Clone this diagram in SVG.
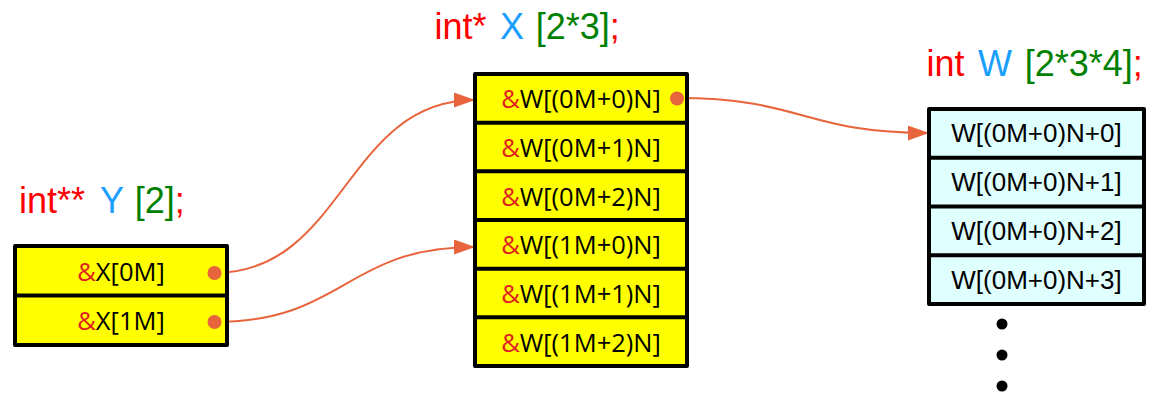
<svg xmlns="http://www.w3.org/2000/svg" width="1149" height="393" viewBox="0 0 1149 393">
  <style>
    .title { font-family: "Liberation Sans", Arial, sans-serif; font-size: 36px; }
    .kw { fill: #ff0000; }
    .nm { fill: #1a9fff; }
    .dim { fill: #008000; }
    .ptr { fill: #ffff00; stroke: #000; stroke-width: 4; stroke-linejoin: round; }
    .val { fill: #e0ffff; stroke: #000; stroke-width: 4; stroke-linejoin: round; }
    .div { stroke: #000; stroke-width: 4; }
    .ptxt { font-family: "Open Sans", "Liberation Sans", sans-serif; font-size: 25.5px; fill: #000; text-anchor: middle; }
    .amp { fill: #e02020; }
    .vtxt { font-family: "Liberation Sans", Arial, sans-serif; font-size: 26px; fill: #000; text-anchor: middle; }
    .src { fill: #e8643c; }
    .link { fill: none; stroke: #e8643c; stroke-width: 2; marker-end: url(#arrow); }
  </style>
  <defs>
    <marker id="arrow" markerUnits="userSpaceOnUse" markerWidth="22" markerHeight="16" refX="21" refY="7.5" orient="auto">
      <path d="M0,0 L21,7.5 L0,15 z" fill="#e8643c"/>
    </marker>
  </defs>

  <rect width="1149" height="393" fill="#fff"/>

  <!-- declarations -->
  <g id="title-Y" class="title">
    <text x="19" y="213" class="kw">int**</text>
    <text x="100" y="213" class="nm">Y</text>
    <text x="134.7" y="213"><tspan class="dim">[2]</tspan><tspan class="kw">;</tspan></text>
  </g>
  <g id="title-X" class="title">
    <text x="434.5" y="39" class="kw">int*</text>
    <text x="500" y="39" class="nm">X</text>
    <text x="535.7" y="39"><tspan class="dim">[2*3]</tspan><tspan class="kw">;</tspan></text>
  </g>
  <g id="title-W" class="title">
    <text x="926.5" y="76" class="kw">int</text>
    <text x="978" y="76" class="nm">W</text>
    <text x="1024.7" y="76"><tspan class="dim">[2*3*4]</tspan><tspan class="kw">;</tspan></text>
  </g>

  <!-- connectors -->
  <g id="connectors">
    <path class="link" d="M214,273 C345,273 345,100 475,100"/>
    <path class="link" d="M214,322 C345,322 345,247 475,247"/>
    <path class="link" d="M677,98 C803,98 803,133 929,133"/>
  </g>

  <!-- Y: array of pointers to rows of X -->
  <g id="Y">
    <rect class="ptr" x="15" y="246" width="212" height="99"/>
    <line class="div" x1="15" y1="295.5" x2="227" y2="295.5"/>
    <text class="ptxt" x="121" y="280.5"><tspan class="amp">&amp;</tspan>X[0M]</text>
    <text class="ptxt" x="121" y="330"><tspan class="amp">&amp;</tspan>X[1M]</text>
    <circle class="src" cx="214.5" cy="273" r="7"/>
    <circle class="src" cx="214.5" cy="322" r="7"/>
  </g>

  <!-- X: array of pointers into W -->
  <g id="X">
    <rect class="ptr" x="475" y="74" width="212" height="292"/>
    <line class="div" x1="475" y1="122.7" x2="687" y2="122.7"/>
    <line class="div" x1="475" y1="171.3" x2="687" y2="171.3"/>
    <line class="div" x1="475" y1="220" x2="687" y2="220"/>
    <line class="div" x1="475" y1="268.7" x2="687" y2="268.7"/>
    <line class="div" x1="475" y1="317.3" x2="687" y2="317.3"/>
    <text class="ptxt" x="581" y="108.3"><tspan class="amp">&amp;</tspan>W[(0M+0)N]</text>
    <text class="ptxt" x="581" y="157"><tspan class="amp">&amp;</tspan>W[(0M+1)N]</text>
    <text class="ptxt" x="581" y="205.7"><tspan class="amp">&amp;</tspan>W[(0M+2)N]</text>
    <text class="ptxt" x="581" y="254.3"><tspan class="amp">&amp;</tspan>W[(1M+0)N]</text>
    <text class="ptxt" x="581" y="303"><tspan class="amp">&amp;</tspan>W[(1M+1)N]</text>
    <text class="ptxt" x="581" y="351.7"><tspan class="amp">&amp;</tspan>W[(1M+2)N]</text>
    <circle class="src" cx="677" cy="98.5" r="7"/>
  </g>

  <!-- W: flat value storage -->
  <g id="W">
    <rect class="val" x="929" y="109" width="215" height="195"/>
    <line class="div" x1="929" y1="157.75" x2="1144" y2="157.75"/>
    <line class="div" x1="929" y1="206.5" x2="1144" y2="206.5"/>
    <line class="div" x1="929" y1="255.25" x2="1144" y2="255.25"/>
    <text class="vtxt" x="1036.5" y="142.4">W[(0M+0)N+0]</text>
    <text class="vtxt" x="1036.5" y="191.1">W[(0M+0)N+1]</text>
    <text class="vtxt" x="1036.5" y="239.9">W[(0M+0)N+2]</text>
    <text class="vtxt" x="1036.5" y="288.6">W[(0M+0)N+3]</text>
    <circle cx="1002" cy="324" r="5.5" fill="#000"/>
    <circle cx="1002" cy="355" r="5.5" fill="#000"/>
    <circle cx="1002" cy="386" r="5.5" fill="#000"/>
  </g>
</svg>
